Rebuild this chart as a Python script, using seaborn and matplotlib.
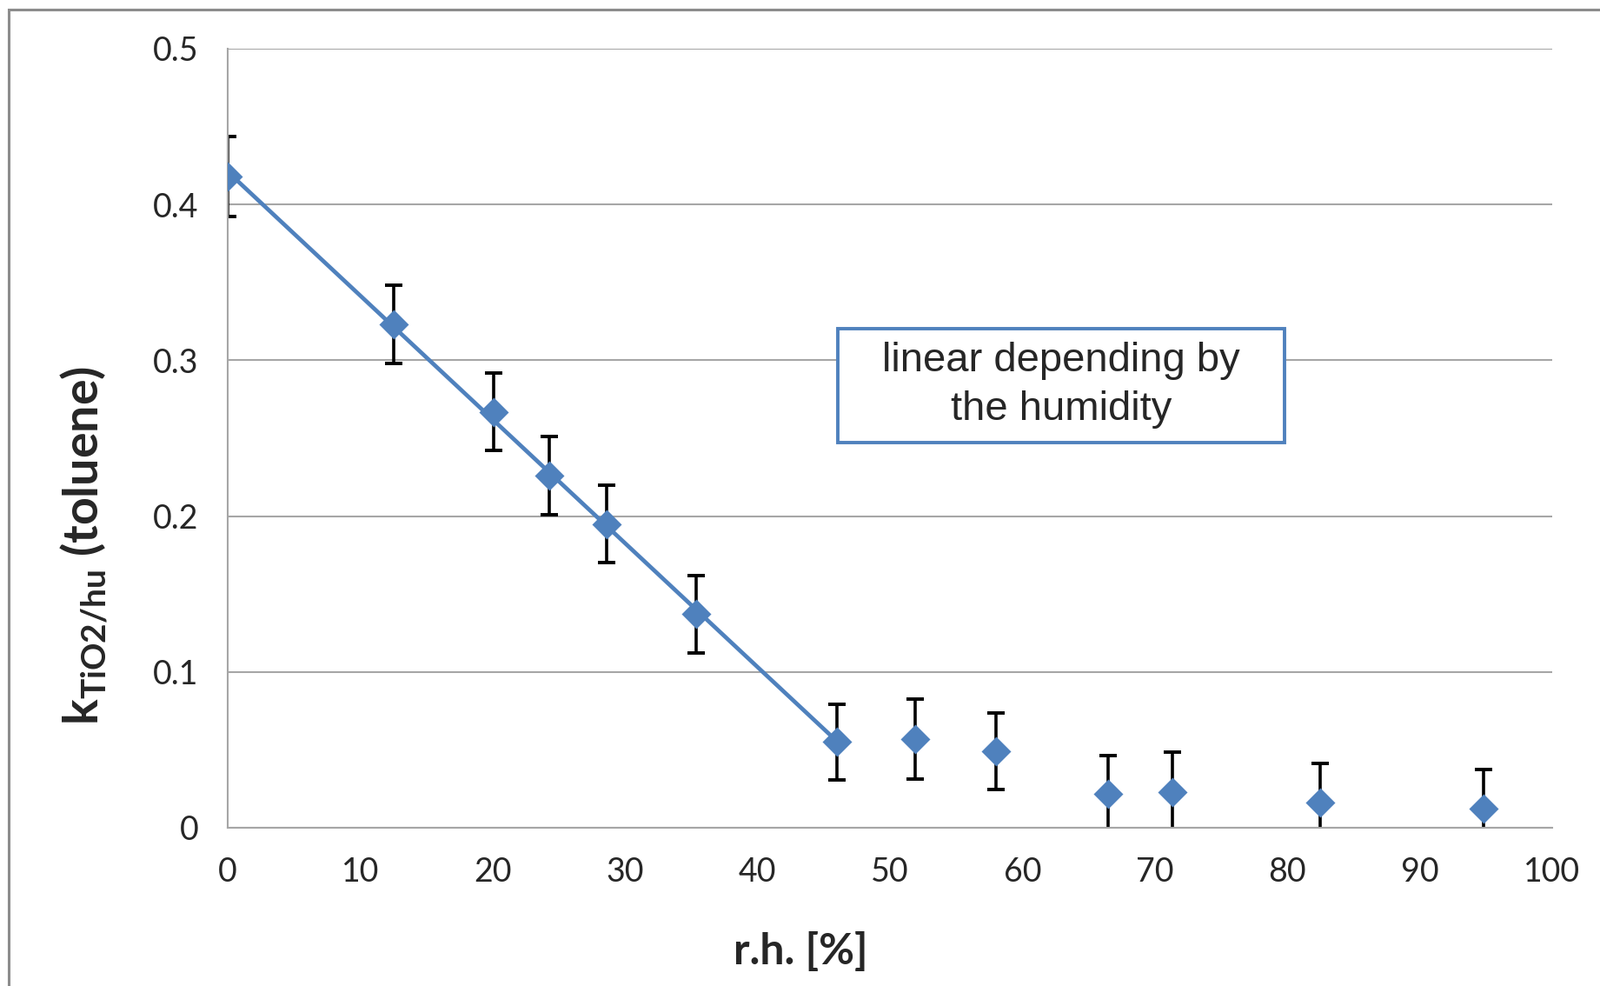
import numpy as np
import matplotlib.pyplot as plt
import seaborn as sns
from matplotlib.patches import Rectangle

sns.set_style("white")
plt.rcParams['font.family'] = ['Lato', 'DejaVu Sans']
plt.rcParams['mathtext.fontset'] = 'custom'
plt.rcParams['mathtext.rm'] = 'Lato'
plt.rcParams['mathtext.bf'] = 'Lato:bold'

# data
rh = [0, 12.5, 20.1, 24.3, 28.6, 35.4, 46.0, 51.9, 58.0, 66.5, 71.3, 82.5, 94.8]
k = [0.418, 0.323, 0.267, 0.226, 0.195, 0.137, 0.055, 0.057, 0.049, 0.022, 0.023, 0.016, 0.012]
k_err = [0.0255, 0.025, 0.025, 0.025, 0.025, 0.025, 0.0245, 0.0255, 0.0245, 0.0245, 0.0255, 0.0255, 0.0255]
n_linear = 7  # first points follow the linear trend

x_ticks = [0, 10, 20, 30, 40, 50, 60, 70, 80, 90, 100]
y_ticks = [0, 0.1, 0.2, 0.3, 0.4, 0.5]
y_tick_labels = ["0", "0.1", "0.2", "0.3", "0.4", "0.5"]

blue = "#4F81BD"
grey = "#A6A6A6"

W, H = 1841, 1134
fig = plt.figure(figsize=(W / 100, H / 100), dpi=100)
ax = fig.add_axes([262 / W, 1 - 952 / H, (1786 - 262) / W, (952 - 56) / H])

# error bars behind the markers
ax.errorbar(rh, k, yerr=k_err, fmt="none", ecolor="black", elinewidth=2.6,
            capsize=7, capthick=2.8, zorder=2, clip_on=True)

# linear trend on the first points
sns.regplot(x=rh[:n_linear], y=k[:n_linear], ax=ax, scatter=False, ci=None,
            truncate=True, line_kws=dict(color=blue, lw=3.4, zorder=3))

sns.scatterplot(x=rh, y=k, ax=ax, marker="D", s=300, color=blue,
                linewidth=0, zorder=4)

ax.set_xlim(0, 100)
ax.set_ylim(0, 0.5)
ax.set_xticks(x_ticks)
ax.set_yticks(y_ticks)
ax.set_yticklabels(y_tick_labels)
ax.tick_params(length=0, pad=24, labelsize=27)
ax.grid(axis="y", color=grey, lw=1.5)
ax.grid(axis="x", visible=False)
for side in ["top", "right"]:
    ax.spines[side].set_visible(False)
for side in ["left", "bottom"]:
    ax.spines[side].set_color(grey)
    ax.spines[side].set_linewidth(1.5)

ax.set_xlabel("r.h. [%]", fontsize=36, fontweight="bold", va="center")
ax.xaxis.set_label_coords((921 - 262) / 1524, -(1094 - 952) / 896)
ax.set_ylabel(r"$\mathbf{k}_{\mathbf{TiO2/hu}}$ (toluene)", fontsize=40,
              fontweight="bold", va="center")
ax.yaxis.set_label_coords((96 - 262) / 1524, (952 - 628) / 896)

# annotation box
fig.add_artist(Rectangle((964 / W, 1 - 509 / H), (1478 - 964) / W, (509 - 378) / H,
                         transform=fig.transFigure, facecolor="white",
                         edgecolor=blue, lw=2.8, zorder=10))
fig.text(1221 / W, 1 - 443 / H, "linear depending by\nthe humidity", ha="center",
         va="center", fontsize=34, family=["Liberation Sans"], linespacing=1.35,
         zorder=11)

# outer chart frame (only top and left edges are inside the image)
fig.add_artist(Rectangle((10 / W, -0.05), 1.1, 1.05 - 11 / H,
                         transform=fig.transFigure, fill=False,
                         edgecolor="#8C8C8C", lw=2.2))

fig.savefig("out.png", dpi=100)
